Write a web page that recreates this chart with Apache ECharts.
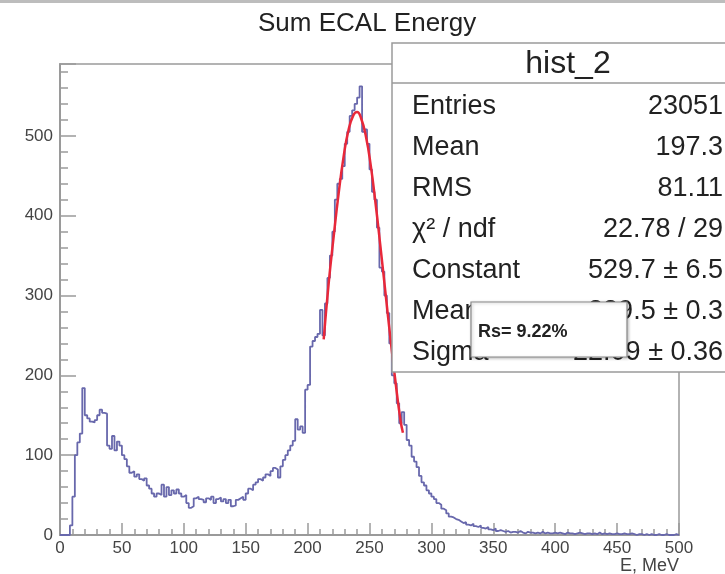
<!DOCTYPE html>
<html>
<head>
<meta charset="utf-8">
<script src="https://cdn.jsdelivr.net/npm/echarts@6/dist/echarts.min.js"></script>
<style>
  html, body { margin: 0; padding: 0; background: #fff; }
  #chart { width: 725px; height: 574px; }
</style>
</head>
<body>
<div id="chart"></div>
<script>
// histogram: 250 bins of 2 MeV from 0 to 500
const binWidth = 2
const counts = [
  0, 0, 0, 0, 12, 48, 100, 116, 127, 184,
  150, 146, 142, 141, 144, 150, 157, 153, 152, 112,
  108, 124, 106, 117, 112, 100, 95, 86, 78, 80,
  73, 76, 70, 68, 71, 62, 58, 52, 48, 52,
  50, 63, 48, 60, 50, 56, 52, 57, 52, 48,
  50, 40, 34, 36, 46, 48, 45, 44, 41, 46,
  44, 48, 40, 45, 47, 42, 45, 40, 44, 36,
  37, 44, 46, 48, 44, 52, 58, 56, 63, 66,
  70, 68, 72, 76, 74, 80, 84, 82, 72, 86,
  94, 100, 106, 112, 118, 145, 132, 136, 128, 182,
  188, 236, 243, 248, 252, 282, 250, 290, 322, 350,
  380, 420, 440, 446, 462, 490, 505, 525, 532, 540,
  548, 562, 505, 508, 490, 458, 430, 420, 385, 335,
  330, 300, 278, 240, 200, 190, 165, 140, 154, 138,
  119, 112, 98, 92, 85, 74, 66, 62, 56, 52,
  48, 45, 40, 38, 33, 31, 27, 23, 22, 20,
  19, 17, 15, 16, 13, 12, 14, 11, 10, 12,
  9, 8, 10, 7, 6, 8, 5, 6, 5, 4,
  5, 3, 4, 4, 3, 5, 3, 2, 4, 3,
  3, 2, 3, 2, 4, 2, 3, 2, 2, 3,
  2, 3, 2, 1, 3, 2, 2, 1, 2, 3,
  2, 1, 2, 2, 1, 2, 1, 3, 1, 2,
  1, 2, 1, 1, 2, 1, 1, 2, 1, 1,
  2, 1, 0, 1, 1, 0, 1, 0, 1, 0,
  0, 1, 0, 0, 1, 0, 0, 0, 1, 0
]

// gaussian fit curve
const fitE = [213, 217, 221, 225, 229, 233, 237, 240, 243, 247, 251, 255, 259, 263, 267, 271, 275, 277]
const fitV = [245, 315, 373, 427, 473, 507, 526, 530, 523, 500, 463, 414, 359, 302, 245, 192, 144, 128]

const statLabels = ["Entries", "Mean", "RMS", "χ² / ndf", "Constant", "Mean", "Sigma"]
const statValues = ["23051", "197.3", "81.11", "22.78 / 29", "529.7 ± 6.5", "239.5 ± 0.3", "22.09 ± 0.36"]

const xTicks = { min: 0, max: 500, interval: 50 }
const yTicks = { min: 0, max: 590, interval: 100 }

const font = "'Liberation Sans', Arial, sans-serif"
const axisGray = "#9a9a9a"

const histData = counts.map((v, i) => [i * binWidth, v])
histData.push([counts.length * binWidth, counts[counts.length - 1]])
const fitData = fitE.map((e, i) => [e, fitV[i]])

const chart = echarts.init(document.getElementById("chart"), null, { renderer: "canvas" })

// stats box
const boxX = 392, boxY = 43, rowH = 41
const statsGraphics = [
  { type: "rect", z: 100, shape: { x: boxX, y: boxY, width: 360, height: 329 },
    style: { fill: "#fff", stroke: axisGray, lineWidth: 1.5 } },
  { type: "line", z: 101, shape: { x1: boxX, y1: 83, x2: 725, y2: 83 },
    style: { stroke: axisGray, lineWidth: 1.5 } },
  { type: "text", z: 101, x: 568, y: 64,
    style: { text: "hist_2", font: "32px " + font, fill: "#222", textAlign: "center", textVerticalAlign: "middle" } }
]
statLabels.forEach((lab, i) => {
  const cy = 107 + i * rowH
  statsGraphics.push({ type: "text", z: 101, x: 412, y: cy,
    style: { text: lab, font: "27px " + font, fill: "#222", textVerticalAlign: "middle" } })
  statsGraphics.push({ type: "text", z: 101, x: 723, y: cy,
    style: { text: statValues[i], font: "27px " + font, fill: "#222", textAlign: "right", textVerticalAlign: "middle" } })
})
// Rs label box sitting over the stats
statsGraphics.push({ type: "rect", z: 110, shape: { x: 471, y: 302, width: 156, height: 55 },
  style: { fill: "#fff", stroke: "#8a8a8a", lineWidth: 1.2, shadowColor: "rgba(0,0,0,0.25)", shadowBlur: 3, shadowOffsetX: 1, shadowOffsetY: 1 } })
statsGraphics.push({ type: "text", z: 111, x: 478, y: 332,
  style: { text: "Rs= 9.22%", font: "bold 18px " + font, fill: "#222", textVerticalAlign: "middle" } })

const option = {
  backgroundColor: "#fff",
  animation: false,
  grid: {
    left: 60, right: 46, top: 64, bottom: 39,
    show: true, borderColor: axisGray, borderWidth: 1.5, backgroundColor: "transparent"
  },
  xAxis: {
    type: "value",
    min: xTicks.min, max: xTicks.max, interval: xTicks.interval,
    axisLine: { lineStyle: { color: axisGray, width: 2 } },
    axisTick: { inside: true, length: 12, lineStyle: { color: axisGray, width: 1.5 } },
    minorTick: { show: true, splitNumber: 5, length: 6, lineStyle: { color: axisGray, width: 1.5 } },
    splitLine: { show: false },
    axisLabel: { color: "#444", fontFamily: font, fontSize: 17, margin: 5 }
  },
  yAxis: {
    type: "value",
    min: yTicks.min, max: yTicks.max, interval: yTicks.interval,
    axisLine: { show: true, lineStyle: { color: axisGray, width: 2 } },
    axisTick: { show: true, inside: true, length: 16, lineStyle: { color: axisGray, width: 1.5 } },
    minorTick: { show: true, splitNumber: 5, length: 8, lineStyle: { color: axisGray, width: 1.5 } },
    splitLine: { show: false },
    axisLabel: { color: "#444", fontFamily: font, fontSize: 17, margin: 7, showMaxLabel: false }
  },
  title: {
    text: "Sum ECAL Energy",
    left: 253, top: 6,
    textStyle: { fontFamily: font, fontSize: 26, fontWeight: "normal", color: "#222" }
  },
  graphic: [
    { type: "rect", z: 120, shape: { x: 0, y: 0, width: 725, height: 3 }, style: { fill: "#bdbdbd" } },
    { type: "text", z: 101, x: 679, y: 566,
      style: { text: "E, MeV", font: "18px " + font, fill: "#444", textAlign: "right", textVerticalAlign: "middle" } }
  ].concat(statsGraphics),
  series: [
    {
      name: "hist_2",
      type: "line",
      step: "end",
      data: histData,
      symbol: "none",
      z: 2,
      lineStyle: { color: "#6868ac", width: 1.8 }
    },
    {
      name: "fit",
      type: "line",
      data: fitData,
      smooth: true,
      symbol: "none",
      z: 3,
      lineStyle: { color: "#e8283a", width: 2.5 }
    }
  ]
}

chart.setOption(option)
</script>
</body>
</html>
